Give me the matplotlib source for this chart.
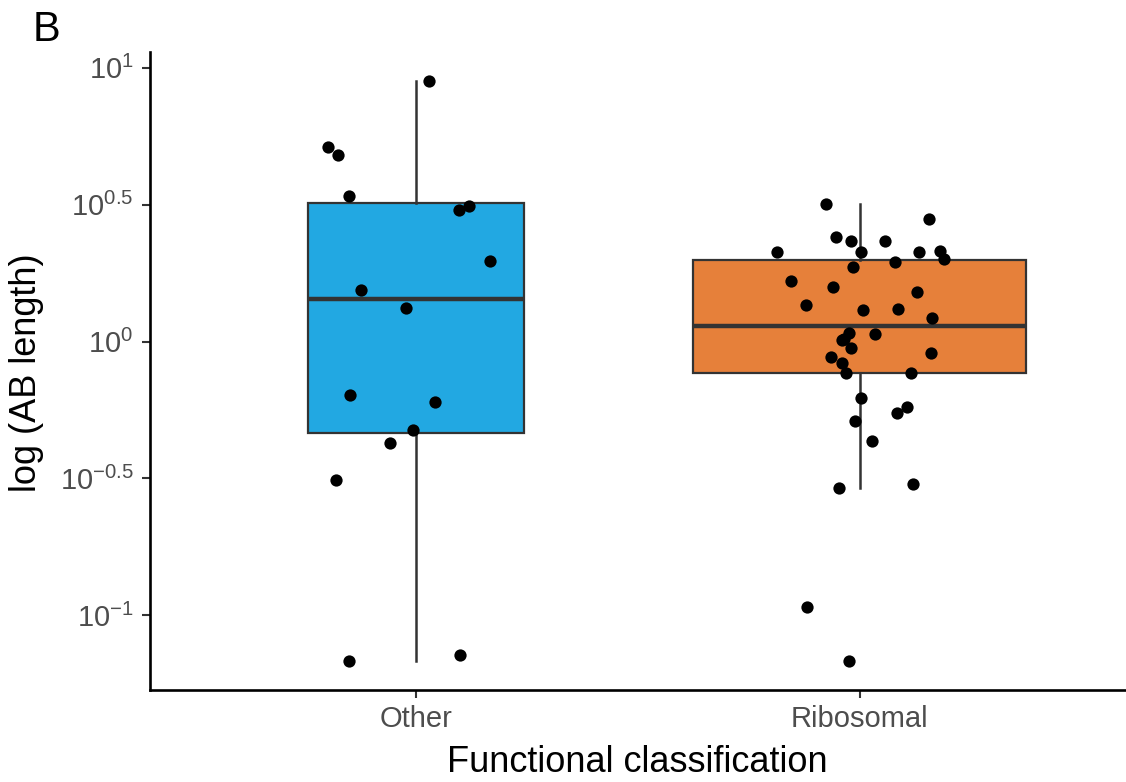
import matplotlib
matplotlib.use('Agg')
import matplotlib.pyplot as plt
import numpy as np

# data: log10(AB length)
categories = ['Other', 'Ribosomal']
other_log = [0.952, 0.710, 0.680, 0.532, 0.482, 0.496, 0.294, 0.189, 0.121,
             -0.197, -0.219, -0.323, -0.369, -0.505, -1.167, -1.145]
other_jitter = [0.028, -0.199, -0.176, -0.152, 0.096, 0.120, 0.166, -0.125, -0.023,
                -0.150, 0.043, -0.008, -0.059, -0.180, -0.152, 0.098]
ribo_log = [0.503, 0.448, 0.381, 0.369, 0.369, 0.327, 0.327, 0.327, 0.330, 0.301,
            0.290, 0.273, 0.221, 0.201, 0.180, 0.135, 0.117, 0.119, 0.085, 0.028,
            0.031, 0.006, -0.022, -0.057, -0.043, -0.078, -0.114, -0.115, -0.205,
            -0.238, -0.260, -0.289, -0.364, -0.535, -0.522, -0.969, -1.166, 0.010]
ribo_jitter = [-0.077, 0.157, -0.054, -0.019, 0.056, -0.186, 0.002, 0.133, 0.180, 0.190,
               0.080, -0.015, -0.155, -0.061, 0.128, -0.122, 0.007, 0.086, 0.163, 0.034,
               -0.025, -0.040, -0.019, -0.065, 0.160, -0.041, -0.031, 0.116, 0.002,
               0.107, 0.083, -0.011, 0.027, -0.046, 0.121, -0.119, -0.025, -0.035]
box_colors = ['#22A8E2', '#E6803A']
y_ticks = [-1, -0.5, 0, 0.5, 1]
y_tick_labels = [r'$\mathregular{10^{-1}}$', r'$\mathregular{10^{-0.5}}$',
                 r'$\mathregular{10^{0}}$', r'$\mathregular{10^{0.5}}$',
                 r'$\mathregular{10^{1}}$']

plt.rcParams['font.family'] = ['Liberation Sans', 'DejaVu Sans']
plt.rcParams['mathtext.fontset'] = 'custom'
plt.rcParams['mathtext.rm'] = 'Liberation Sans'
plt.rcParams['mathtext.it'] = 'Liberation Sans:italic'
plt.rcParams['mathtext.bf'] = 'Liberation Sans:bold'


def main():
    fig = plt.figure(figsize=(11.26, 7.82), dpi=100)
    ax = fig.add_axes([150 / 1126, 92 / 782, 976 / 1126, 638 / 782])

    groups = [other_log, ribo_log]
    positions = [1, 2]
    # varwidth-like boxes: width proportional to sqrt(n)
    n = np.array([len(g) for g in groups])
    widths = 0.75 * np.sqrt(n) / np.sqrt(n.max())

    bp = ax.boxplot(groups, positions=positions, widths=widths, patch_artist=True,
                    showfliers=False, showcaps=False, whis=1.5,
                    boxprops=dict(edgecolor='#333333', linewidth=1.6),
                    whiskerprops=dict(color='#333333', linewidth=1.8),
                    medianprops=dict(color='#333333', linewidth=3.2, solid_capstyle='butt'))
    for patch, col in zip(bp['boxes'], box_colors):
        patch.set_facecolor(col)

    # jittered points
    for pos, vals, jit in zip(positions, groups, [other_jitter, ribo_jitter]):
        ax.scatter(pos + np.array(jit), vals, s=78, color='black', zorder=5,
                   linewidths=0)

    # axes make-up
    all_vals = np.concatenate(groups)
    lo, hi = all_vals.min(), all_vals.max()
    pad = 0.05 * (hi - lo)
    ax.set_ylim(lo - pad, hi + pad)
    ax.set_xlim(0.4, 2.6)
    ax.set_xticks(positions)
    ax.set_xticklabels(categories)
    ax.set_yticks(y_ticks)
    ax.set_yticklabels(y_tick_labels)

    for side in ['top', 'right']:
        ax.spines[side].set_visible(False)
    for side in ['left', 'bottom']:
        ax.spines[side].set_linewidth(1.9)
        ax.spines[side].set_color('black')
    ax.tick_params(axis='both', length=5.8, width=1.5, color='#333333',
                   labelcolor='#4D4D4D', labelsize=21)
    ax.tick_params(axis='y', pad=6)
    ax.tick_params(axis='x', pad=5)

    fig.text(27 / 1126, 1 - 373 / 782, 'log (AB length)', rotation=90,
             ha='center', va='center', fontsize=26)
    fig.text(637 / 1126, 1 - 763 / 782, 'Functional classification',
             ha='center', va='center', fontsize=26)
    fig.text(33 / 1126, 1 - 10 / 782, 'B', ha='left', va='top', fontsize=30)

    fig.savefig('out.png', dpi=100)


if __name__ == '__main__':
    main()
